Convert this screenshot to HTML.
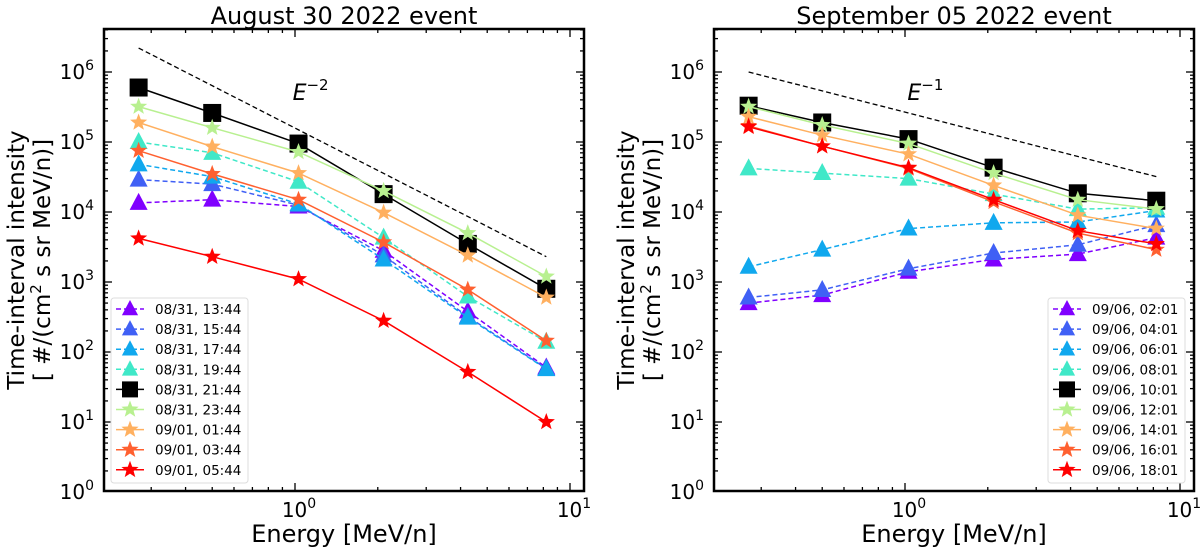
<!DOCTYPE html>
<html><head><meta charset="utf-8"><style>
body{margin:0;background:#fff;}
svg text{font-family:"DejaVu Sans","Liberation Sans",sans-serif;}
</style></head><body>
<svg id="chart" width="1200" height="549" xmlns="http://www.w3.org/2000/svg"></svg>
<script>
const energies = [0.27, 0.5, 1.03, 2.1, 4.25, 8.2];
const xTickLabels = ["10", "10"];
const yTickExps = [0,1,2,3,4,5,6];

const leftLabels = ["08/31, 13:44","08/31, 15:44","08/31, 17:44","08/31, 19:44","08/31, 21:44","08/31, 23:44","09/01, 01:44","09/01, 03:44","09/01, 05:44"];
const leftS0 = [1.35e4, 1.5e4, 1.2e4, 2.8e3, 380, 60];
const leftS1 = [2.9e4, 2.5e4, 1.25e4, 2.4e3, 320, 58];
const leftS2 = [4.8e4, 3.2e4, 1.3e4, 2.1e3, 310, 57];
const leftS3 = [1.0e5, 7.0e4, 2.7e4, 4.3e3, 620, 140];
const leftS4 = [6.0e5, 2.6e5, 9.5e4, 1.8e4, 3.5e3, 800];
const leftS5 = [3.2e5, 1.6e5, 7.2e4, 2.0e4, 5.0e3, 1.2e3];
const leftS6 = [1.9e5, 8.6e4, 3.6e4, 9.8e3, 2.4e3, 600];
const leftS7 = [7.5e4, 3.5e4, 1.5e4, 3.7e3, 780, 145];
const leftS8 = [4.2e3, 2.3e3, 1.1e3, 280, 52, 10];
const leftRef = [2.2e6, 2.3e3];

const rightLabels = ["09/06, 02:01","09/06, 04:01","09/06, 06:01","09/06, 08:01","09/06, 10:01","09/06, 12:01","09/06, 14:01","09/06, 16:01","09/06, 18:01"];
const rightS0 = [500, 650, 1.4e3, 2.1e3, 2.5e3, 4.3e3];
const rightS1 = [600, 770, 1.55e3, 2.6e3, 3.4e3, 6.5e3];
const rightS2 = [1.65e3, 2.9e3, 5.8e3, 7.0e3, 7.2e3, 1.05e4];
const rightS3 = [4.2e4, 3.6e4, 3.0e4, 1.8e4, 1.1e4, 1.15e4];
const rightS4 = [3.3e5, 1.9e5, 1.1e5, 4.3e4, 1.85e4, 1.45e4];
const rightS5 = [3.2e5, 1.75e5, 9.5e4, 3.6e4, 1.5e4, 1.1e4];
const rightS6 = [2.3e5, 1.25e5, 6.7e4, 2.4e4, 9.0e3, 5.8e3];
const rightS7 = [1.7e5, 8.7e4, 4.2e4, 1.4e4, 5.0e3, 2.9e3];
const rightS8 = [1.65e5, 8.7e4, 4.3e4, 1.5e4, 5.4e3, 3.5e3];
const rightRef = [1.0e6, 3.2e4];

const colors = ["#8000ff","#4060f5","#10a8ee","#40e8c8","#000000","#b8f090","#ffb060","#ff6030","#ff0000"];
const markers = ["tri","tri","tri","tri","sq","star","star","star","star"];

const NS="http://www.w3.org/2000/svg";
const svg=document.getElementById('chart');
function mk(tag,attrs,parent){const e=document.createElementNS(NS,tag);for(const k in attrs)e.setAttribute(k,attrs[k]);(parent||svg).appendChild(e);return e;}

function drawPanel(L, title, labels, series, ref, refExp, refLbl, legX, pname){
  const T=29,B=491,R=L+480;
  const x0=L+191, xdec=275, y0=492, ydec=70;
  const X=v=>x0+Math.log10(v)*xdec;
  const Y=v=>y0-Math.log10(v)*ydec;
  const g=mk('g',{});
  
  
  const t=mk('text',{x:(L+R)/2,y:24,'text-anchor':'middle','font-size':24},g);
  t.textContent=title;
  
  const tg=mk('g',{stroke:'#000','stroke-width':1.3},g);
  
  for(let e=0;e<=6;e++){for(let m=1;m<10;m++){const v=m*Math.pow(10,e);const y=Y(v);if(y<T||y>B)continue;const len=m===1?8:4;
    mk('line',{x1:L,x2:L+len,y1:y,y2:y},tg);mk('line',{x1:R,x2:R-len,y1:y,y2:y},tg);}}
  for(let e=-1;e<=1;e++){for(let m=1;m<10;m++){const v=m*Math.pow(10,e);const x=X(v);if(x<L||x>R)continue;const len=m===1?8:4;
    mk('line',{x1:x,x2:x,y1:B,y2:B-len},tg);mk('line',{x1:x,x2:x,y1:T,y2:T+len},tg);}}
  yTickExps.forEach(e=>{const tx=mk('text',{x:L-10,y:Y(Math.pow(10,e))+7,'text-anchor':'end','font-size':20},g);
    tx.innerHTML='10<tspan dy="-9" font-size="14">'+e+'</tspan>';
    });
  xTickLabels.forEach((s,i)=>{const tx=mk('text',{x:X(Math.pow(10,i))+4,y:B+26,'text-anchor':'middle','font-size':20},g);
    tx.innerHTML=s+'<tspan dy="-9" font-size="14">'+i+'</tspan>';
    });
  const xl=mk('text',{x:(L+R)/2,y:542,'text-anchor':'middle','font-size':24},g);xl.textContent='Energy [MeV/n]';
  
  const yl=mk('text',{transform:`translate(${L-80},${(T+B)/2}) rotate(-90)`,'text-anchor':'middle','font-size':23},g);
  yl.textContent='Time-interval intensity';
  const yl2=mk('text',{transform:`translate(${L-54},${(T+B)/2}) rotate(-90)`,'text-anchor':'middle','font-size':23},g);
  yl2.innerHTML='[ #/(cm<tspan dy="-9" font-size="15">2</tspan><tspan dy="9"> s sr MeV/n)]</tspan>';
  
  const rl=mk('line',{x1:X(energies[0]),y1:Y(ref[0]),x2:X(energies[5]),y2:Y(ref[1]),stroke:'#000','stroke-width':1.3,'stroke-dasharray':'5,3'},g);
  
  const rt=mk('text',{x:X(refLbl[0]),y:Y(refLbl[1]),'font-size':22,'font-style':'italic'},g);
  rt.innerHTML='E<tspan dy="-10" font-size="15" font-style="normal">−'+refExp+'</tspan>';
  
  function marker(type,cx,cy,c,par,s){
    if(type==='tri'){const r=s||10;return mk('polygon',{points:`${cx},${cy-r} ${cx-r*0.9},${cy+r*0.7} ${cx+r*0.9},${cy+r*0.7}`,fill:c},par);}
    if(type==='sq'){const r=s||9;return mk('rect',{x:cx-r,y:cy-r,width:2*r,height:2*r,fill:c},par);}
    const r=s||9;let p=[];for(let k=0;k<10;k++){const a=-Math.PI/2+k*Math.PI/5;const rr=k%2?r*0.42:r;p.push((cx+rr*Math.cos(a)).toFixed(1)+','+(cy+rr*Math.sin(a)).toFixed(1));}
    return mk('polygon',{points:p.join(' '),fill:c},par);
  }
  series.forEach((s,i)=>{
    const sg=mk('g',{},g);
    
    const pts=s.map((v,j)=>X(energies[j]).toFixed(1)+','+Y(v).toFixed(1)).join(' ');
    const pl=mk('polyline',{points:pts,fill:'none',stroke:colors[i],'stroke-width':1.5,'stroke-dasharray':i<4?'5,3':'none'},sg);
    
    s.forEach((v,j)=>{const m=marker(markers[i],X(energies[j]),Y(v),colors[i],sg);
      });
  });
  const fr=mk('rect',{x:L,y:T,width:R-L,height:B-T,fill:'none',stroke:'#000','stroke-width':2.5},g);
  
  const lg=mk('g',{},g);
  mk('rect',{x:legX,y:298,width:137,height:185,rx:3,fill:'#fff',stroke:'#ddd','stroke-width':1},lg);
  labels.forEach((lab,i)=>{const y=309+i*20.1;
    const eg=mk('g',{},lg);
    mk('line',{x1:legX+5,x2:legX+33,y1:y,y2:y,stroke:colors[i],'stroke-width':1.5,'stroke-dasharray':i<4?'5,3':'none'},eg);
    marker(markers[i],legX+19,y,colors[i],eg,markers[i]==='sq'?8:9);
    const tx=mk('text',{x:legX+44,y:y+5,'font-size':13.5},eg);tx.textContent=lab;});
}
drawPanel(104,"August 30 2022 event",leftLabels,[leftS0,leftS1,leftS2,leftS3,leftS4,leftS5,leftS6,leftS7,leftS8],leftRef,2,[0.98,4e5],111,'left');
drawPanel(714,"September 05 2022 event",rightLabels,[rightS0,rightS1,rightS2,rightS3,rightS4,rightS5,rightS6,rightS7,rightS8],rightRef,1,[1.02,4e5],1048,'right');
</script>
</body></html>
